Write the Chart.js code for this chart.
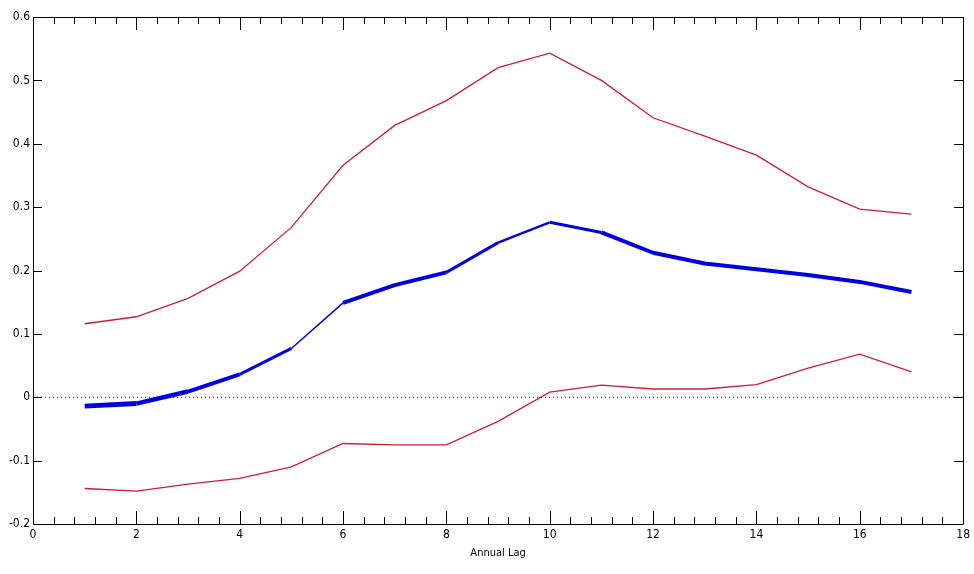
<!DOCTYPE html>
<html>
<head>
<meta charset="utf-8">
<script src="https://cdn.jsdelivr.net/npm/chart.js@4/dist/chart.umd.min.js"></script>
<style>
  html, body { margin: 0; padding: 0; background: #fff; }
  #wrap { width: 974px; height: 574px; }
</style>
</head>
<body>
<div id="wrap"><canvas id="lagChart"></canvas></div>
<script>
// Lag axis and estimates with upper / lower bands
const lags = [1, 2, 3, 4, 5, 6, 7, 8, 9, 10, 11, 12, 13, 14, 15, 16, 17];
const estimate = [-0.014, -0.010, 0.009, 0.036, 0.077, 0.149, 0.177, 0.197, 0.244, 0.276, 0.260, 0.228, 0.211, 0.202, 0.193, 0.182, 0.166];
const upperBand = [0.116, 0.127, 0.156, 0.199, 0.268, 0.366, 0.429, 0.468, 0.520, 0.543, 0.500, 0.441, 0.412, 0.382, 0.332, 0.297, 0.289];
const lowerBand = [-0.144, -0.148, -0.137, -0.128, -0.110, -0.073, -0.075, -0.075, -0.038, 0.008, 0.019, 0.013, 0.013, 0.020, 0.046, 0.068, 0.040];
const xTicks = [0, 2, 4, 6, 8, 10, 12, 14, 16, 18];
const yTicks = [-0.2, -0.1, 0, 0.1, 0.2, 0.3, 0.4, 0.5, 0.6];

// line width of each blue segment
const segmentWidths = [5, 4.5, 4, 3, 1.5, 4, 4, 3, 2.5, 3, 4, 4, 4, 4, 4, 4];

const FONT = '"DejaVu Sans Condensed", "Liberation Sans Narrow", "Liberation Sans", Arial, sans-serif';

const toPoints = (ys) => ys.map((y, i) => ({ x: lags[i], y: y }));

// box, inward ticks and minor ticks, MATLAB style
const axesBox = {
  id: 'axesBox',
  afterDraw(chart) {
    const { ctx, chartArea: a, scales: { x, y } } = chart;
    ctx.save();
    ctx.strokeStyle = '#000';
    ctx.lineWidth = 1;
    ctx.beginPath();
    ctx.rect(Math.round(a.left) + 0.5, Math.round(a.top) + 0.5,
             Math.round(a.right - a.left), Math.round(a.bottom - a.top));
    ctx.stroke();

    ctx.beginPath();
    for (let v = 0; v <= 18.001; v += 0.4) {
      const major = xTicks.some(t => Math.abs(t - v) < 1e-6);
      const len = major ? 13 : 7;
      const px = Math.round(x.getPixelForValue(v)) + 0.5;
      ctx.moveTo(px, a.bottom); ctx.lineTo(px, a.bottom - len);
      ctx.moveTo(px, a.top); ctx.lineTo(px, a.top + len);
    }
    yTicks.forEach(t => {
      const py = Math.round(y.getPixelForValue(t)) + 0.5;
      ctx.moveTo(a.left, py); ctx.lineTo(a.left + 9, py);
      ctx.moveTo(a.right, py); ctx.lineTo(a.right - 9, py);
    });
    ctx.stroke();
    ctx.restore();
  }
};

new Chart(document.getElementById('lagChart'), {
  type: 'line',
  data: {
    datasets: [
      {
        label: 'zero',
        data: [{ x: 0, y: 0 }, { x: 18, y: 0 }],
        borderColor: '#222',
        borderWidth: 1,
        borderDash: [1, 3],
        pointRadius: 0
      },
      {
        label: 'upper',
        data: toPoints(upperBand),
        borderColor: 'rgb(205, 30, 50)',
        borderWidth: 1.3,
        pointRadius: 0
      },
      {
        label: 'lower',
        data: toPoints(lowerBand),
        borderColor: 'rgb(205, 30, 50)',
        borderWidth: 1.3,
        pointRadius: 0
      },
      {
        label: 'estimate',
        data: toPoints(estimate),
        borderColor: 'rgb(0, 0, 225)',
        borderWidth: 4,
        borderJoinStyle: 'round',
        pointRadius: 0,
        segment: {
          borderWidth: ctx => segmentWidths[ctx.p0DataIndex]
        }
      }
    ]
  },
  options: {
    responsive: true,
    maintainAspectRatio: false,
    animation: false,
    layout: { padding: { left: 0, top: 17, right: 10, bottom: 0 } },
    plugins: {
      legend: { display: false },
      tooltip: { enabled: false }
    },
    scales: {
      x: {
        type: 'linear',
        min: 0,
        max: 18,
        afterBuildTicks: (s) => { s.ticks = xTicks.map(v => ({ value: v })); },
        afterFit: (s) => { s.height = 50; },
        grid: { display: false, drawTicks: false },
        border: { display: false },
        ticks: {
          padding: 4,
          color: '#000',
          font: { family: FONT, size: 12 },
          maxRotation: 0
        },
        title: {
          display: true,
          text: 'Annual Lag',
          color: '#000',
          font: { family: FONT, size: 11 },
          padding: { top: 0, bottom: 14 }
        }
      },
      y: {
        type: 'linear',
        min: -0.2,
        max: 0.6,
        afterBuildTicks: (s) => { s.ticks = yTicks.map(v => ({ value: v })); },
        afterFit: (s) => { s.width = 33; },
        grid: { display: false, drawTicks: false },
        border: { display: false },
        ticks: {
          padding: 3,
          color: '#000',
          font: { family: FONT, size: 12 },
          callback: (v) => (Math.round(v * 10) / 10).toString()
        }
      }
    }
  },
  plugins: [axesBox]
});
</script>
</body>
</html>
